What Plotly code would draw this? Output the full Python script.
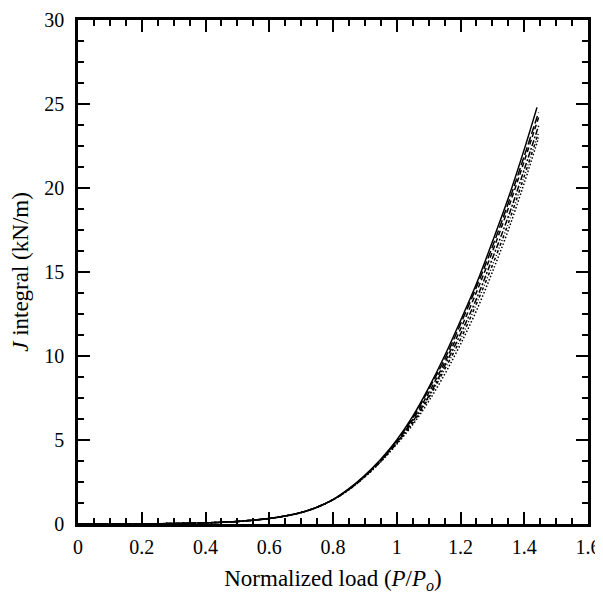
import plotly.graph_objects as go

# Normalized load P/Po
x_vals = [0, 0.1, 0.2, 0.3, 0.4, 0.5, 0.6, 0.65, 0.7, 0.75, 0.8, 0.85, 0.9, 0.95,
          1.0, 1.05, 1.1, 1.15, 1.2, 1.25, 1.3, 1.35, 1.4, 1.44]
x_end_alt = 1.445

low_part = [0, 0.003, 0.012, 0.03, 0.07, 0.15, 0.33, 0.48, 0.68, 1.0, 1.45, 2.1, 2.9, 3.85]

j_solid = low_part + [5.0, 6.4, 8.1, 10.0, 12.1, 14.3, 16.8, 19.4, 22.3, 24.8]
j_longdash = low_part[:-3] + [2.08, 2.88, 3.82] + [4.95, 6.3, 8.0, 9.8, 11.9, 14.1, 16.5, 19.1, 21.9, 24.5]
j_dash = low_part[:-3] + [2.07, 2.86, 3.79] + [4.9, 6.2, 7.8, 9.6, 11.6, 13.8, 16.2, 18.8, 21.6, 24.2]
j_dashdot = low_part[:-3] + [2.06, 2.84, 3.76] + [4.85, 6.1, 7.6, 9.4, 11.3, 13.4, 15.8, 18.3, 21.1, 23.7]
j_longdashdot = low_part[:-3] + [2.05, 2.82, 3.73] + [4.8, 6.0, 7.5, 9.2, 11.0, 13.1, 15.4, 17.9, 20.7, 23.3]
j_dot = low_part[:-3] + [2.04, 2.8, 3.7] + [4.75, 5.9, 7.3, 8.9, 10.7, 12.7, 15.0, 17.5, 20.3, 23.0]

series = [
    ("solid", j_solid, "solid"),
    ("longdash", j_longdash, "8px,3px"),
    ("dash", j_dash, "5px,3px"),
    ("dashdot", j_dashdot, "6px,2px,2px,2px"),
    ("longdashdot", j_longdashdot, "3px,2px,1px,2px"),
    ("dot", j_dot, "1.5px,2px"),
]

fig = go.Figure()
for name, ys, dash in series:
    xs = x_vals if name == "solid" else x_vals[:-1] + [x_end_alt]
    fig.add_trace(go.Scatter(x=xs, y=ys, mode="lines", name=name,
                             line=dict(color="black", width=1.5, dash=dash, shape="spline"),
                             showlegend=False))

font_family = "Liberation Serif, Times New Roman, Tinos, DejaVu Serif, serif"
axis_common = dict(
    showline=True, linecolor="black", linewidth=2.5, mirror="allticks",
    ticks="inside", ticklen=12, tickwidth=1.5, tickcolor="black",
    showgrid=False, zeroline=False, automargin=False, ticklabeloverflow="allow",
    tickfont=dict(family=font_family, size=20, color="black"),
)

# page body has an 8px default margin: compensate in margins
fig.update_layout(
    width=595, height=587,
    margin=dict(l=70, r=15, t=12, b=71),
    plot_bgcolor="white", paper_bgcolor="white",
    font=dict(family=font_family, color="black"),
    xaxis=dict(range=[0, 1.6], dtick=0.2, tick0=0, ticklabelstandoff=3,
               minor=dict(ticks="inside", dtick=0.05, ticklen=6, tickwidth=1.5, tickcolor="black"),
               title=dict(text="Normalized load (<i>P</i>/<i>P<sub>o</sub></i>)",
                          font=dict(family=font_family, size=23, color="black"), standoff=14),
               **axis_common),
    yaxis=dict(range=[0, 30], dtick=5, tick0=0, ticklabelstandoff=7,
               minor=dict(ticks="inside", dtick=1.25, ticklen=6, tickwidth=1.5, tickcolor="black"),
               title=dict(text="<i>J</i> integral (kN/m)",
                          font=dict(family=font_family, size=23, color="black"), standoff=12),
               **axis_common),
)

fig.write_html("out.html")
